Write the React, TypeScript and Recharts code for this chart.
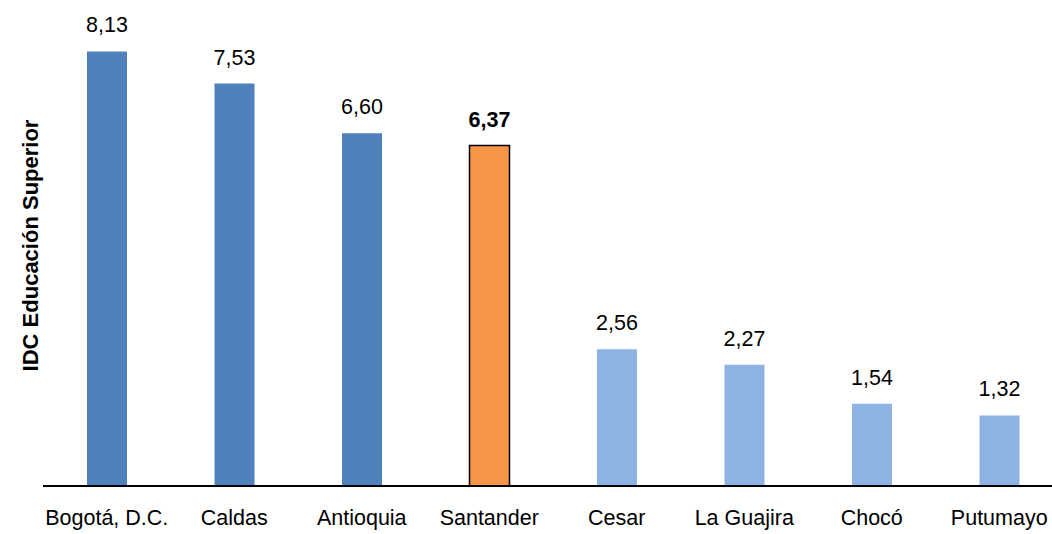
import React from "react";
import { BarChart, Bar, XAxis, YAxis, Cell, LabelList } from "recharts";

const categories = ["Bogotá, D.C.", "Caldas", "Antioquia", "Santander", "Cesar", "La Guajira", "Chocó", "Putumayo"];
const values = [8.13, 7.53, 6.6, 6.37, 2.56, 2.27, 1.54, 1.32];
const highlight = "Santander";
const topGroup = ["Bogotá, D.C.", "Caldas", "Antioquia"];

const COLOR_TOP = "#4F81BD";
const COLOR_LOW = "#8DB3E2";
const COLOR_HL = "#F79646";
const FONT = "'Liberation Sans', Arial, sans-serif";

const data = categories.map((name, i) => ({ name, value: values[i] }));

const fmt = (v: number) => v.toFixed(2).replace(".", ",");

const ValueLabel = (props: any) => {
  const { x, y, width, value, index } = props;
  const isHl = categories[index] === highlight;
  return (
    <text
      x={x + width / 2}
      y={y - 19}
      textAnchor="middle"
      fontFamily={FONT}
      fontSize={21.5}
      fontWeight={isHl ? "bold" : "normal"}
      fill="#000"
    >
      {fmt(value)}
    </text>
  );
};

const YLabel = (props: any) => {
  const { viewBox } = props;
  const cx = 30;
  const cy = viewBox.y + viewBox.height / 2;
  return (
    <text
      x={cx}
      y={cy}
      transform={`rotate(-90, ${cx}, ${cy})`}
      textAnchor="middle"
      dominantBaseline="central"
      fontFamily={FONT}
      fontSize={22}
      fontWeight="bold"
      fill="#000"
    >
      IDC Educación Superior
    </text>
  );
};

export default function App() {
  return (
    <div style={{ position: "absolute", left: 0, top: 0, width: 1052, height: 534, overflow: "hidden", background: "#fff" }}>
      <BarChart
        width={1063}
        height={534}
        data={data}
        margin={{ top: 5, right: 0, left: 0, bottom: 8 }}
        barCategoryGap={0}
      >
        <YAxis
          domain={[0, 9]}
          width={43}
          axisLine={false}
          tickLine={false}
          tick={false}
          label={<YLabel />}
        />
        <XAxis
          dataKey="name"
          height={40}
          interval={0}
          tickLine={false}
          tickSize={0}
          tickMargin={24}
          axisLine={{ stroke: "#000", strokeWidth: 2 }}
          tick={{ fontFamily: FONT, fontSize: 21.5, fill: "#000" }}
        />
        <Bar dataKey="value" barSize={40} isAnimationActive={false}>
          {data.map((d) => (
            <Cell
              key={d.name}
              fill={d.name === highlight ? COLOR_HL : topGroup.includes(d.name) ? COLOR_TOP : COLOR_LOW}
              stroke={d.name === highlight ? "#000" : "none"}
              strokeWidth={d.name === highlight ? 1.5 : 0}
            />
          ))}
          <LabelList dataKey="value" content={<ValueLabel />} />
        </Bar>
      </BarChart>
    </div>
  );
}
